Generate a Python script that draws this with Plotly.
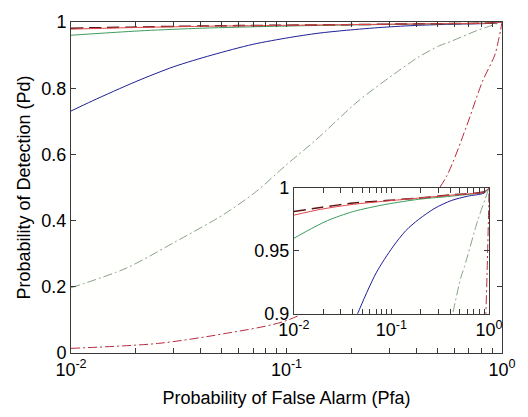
import plotly.graph_objects as go

# Receiver operating characteristic curves: false-alarm probability vs detection probability
pfa_blue = [0.01, 0.0126, 0.02, 0.03, 0.045, 0.0698, 0.103, 0.14, 0.19, 0.28, 0.41, 0.605, 0.89, 1.0]
pd_blue = [0.731, 0.762, 0.82, 0.865, 0.90, 0.9325, 0.953, 0.966, 0.975, 0.984, 0.990, 0.9935, 0.996, 1.0]

pfa_green = [0.01, 0.0138, 0.022, 0.0407, 0.088, 0.19, 0.41, 0.89, 1.0]
pd_green = [0.960, 0.966, 0.974, 0.9813, 0.987, 0.991, 0.9935, 0.997, 1.0]

pfa_red = [0.01, 0.0188, 0.0407, 0.088, 0.19, 0.41, 0.89, 1.0]
pd_red = [0.9784, 0.983, 0.987, 0.9896, 0.992, 0.9943, 0.997, 1.0]

pfa_dark = [0.01, 0.0188, 0.0407, 0.088, 0.19, 0.41, 0.89, 1.0]
pd_dark = [0.9813, 0.9845, 0.988, 0.990, 0.992, 0.9945, 0.997, 1.0]

pfa_green_dd = [0.01, 0.018, 0.0303, 0.0512, 0.0727, 0.0996, 0.136, 0.215, 0.327, 0.412, 0.515, 0.561, 0.764, 0.9, 1.0]
pd_green_dd = [0.197, 0.256, 0.335, 0.419, 0.489, 0.568, 0.642, 0.761, 0.850, 0.895, 0.929, 0.9377, 0.974, 0.99, 1.0]

pfa_red_dd = [0.01, 0.0254, 0.051, 0.1, 0.2, 0.3, 0.4, 0.552, 0.681, 0.811, 0.926, 0.966, 0.985, 1.0]
pd_red_dd = [0.014, 0.029, 0.058, 0.098, 0.2, 0.3, 0.4, 0.533, 0.681, 0.82, 0.90, 0.949, 0.975, 1.0]

x_tick_vals = [0.01, 0.1, 1]
x_tick_text = ["10<sup>-2</sup>", "10<sup>-1</sup>", "10<sup>0</sup>"]
x_minor_vals = [0.02, 0.03, 0.04, 0.05, 0.06, 0.07, 0.08, 0.09,
                0.2, 0.3, 0.4, 0.5, 0.6, 0.7, 0.8, 0.9]
y_tick_vals = [0, 0.2, 0.4, 0.6, 0.8, 1]
y_tick_text = ["0", "0.2", "0.4", "0.6", "0.8", "1"]
inset_y_vals = [0.9, 0.95, 1]
inset_y_text = ["0.9", "0.95", "1"]

series = [
    (pfa_red_dd, pd_red_dd, "#b82a3c", "9px,3px,2px,3px", 1.0),
    (pfa_green_dd, pd_green_dd, "#8aa28a", "9px,3px,2px,3px", 1.0),
    (pfa_blue, pd_blue, "#1e1e96", "solid", 1.0),
    (pfa_green, pd_green, "#3c9c5c", "solid", 1.0),
    (pfa_dark, pd_dark, "#5a1414", "12px,6px", 1.5),
    (pfa_red, pd_red, "#e0464a", "solid", 1.0),
]

fig = go.Figure()
for xa, ya in (("x", "y"), ("x2", "y2")):
    for xs, ys, col, dash, w in series:
        fig.add_trace(go.Scatter(x=xs, y=ys, mode="lines", xaxis=xa, yaxis=ya,
                                 line=dict(color=col, width=w, dash=dash,
                                           shape="spline", smoothing=0.8),
                                 showlegend=False, hoverinfo="skip"))

frame = "#3a3a3a"
common = dict(showline=True, linecolor=frame, linewidth=1, mirror="ticks",
              ticks="inside", ticklen=5, tickcolor=frame, showgrid=False,
              zeroline=False)
xcommon = dict(common, type="log", range=[-2, 0], tickmode="array",
               tickvals=x_tick_vals, ticktext=x_tick_text,
               minor=dict(tickmode="array", tickvals=x_minor_vals, ticks="inside",
                          ticklen=5, tickcolor=frame, showgrid=False))

fig.update_layout(
    width=528, height=417,
    margin=dict(l=71, r=18, t=16, b=64),
    paper_bgcolor="#ffffff", plot_bgcolor="#fffffe",
    showlegend=False,
    font=dict(family="Liberation Sans, Arial, sans-serif", size=18, color="black"),
    xaxis=dict(xcommon, domain=[0, 1], anchor="y",
               title=dict(text="Probability of False Alarm (Pfa)", standoff=12,
                          font=dict(size=18))),
    yaxis=dict(common, range=[0, 1], domain=[0, 1], anchor="x", tickmode="array",
               tickvals=y_tick_vals, ticktext=y_tick_text,
               title=dict(text="Probability of Detection (Pd)", standoff=6,
                          font=dict(size=18))),
    xaxis2=dict(xcommon, domain=[0.517, 0.970], anchor="y2"),
    yaxis2=dict(common, range=[0.9, 1], domain=[0.1187, 0.4985], anchor="x2",
                tickmode="array", tickvals=inset_y_vals, ticktext=inset_y_text),
)

fig.write_html("out.html")
